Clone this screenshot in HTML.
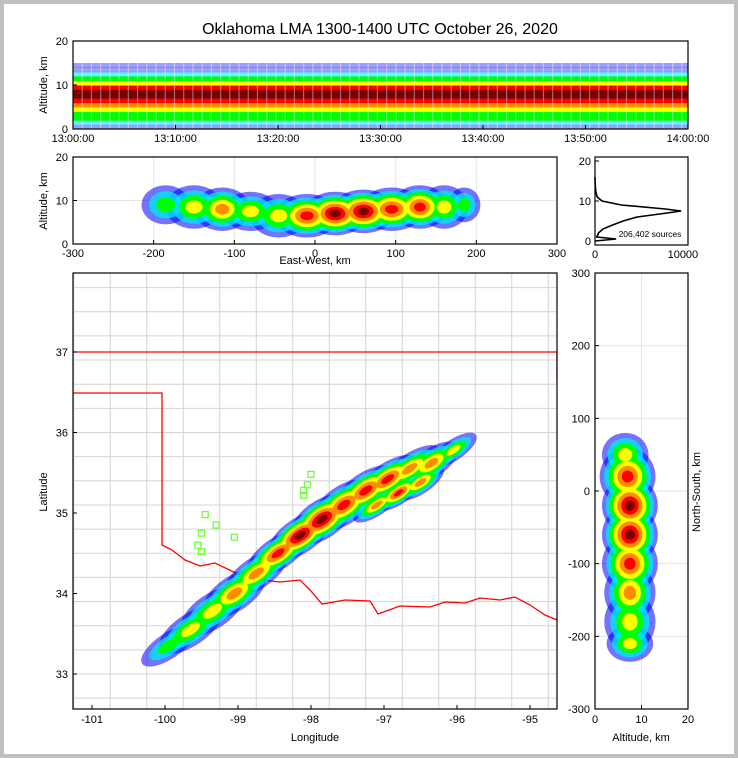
<!DOCTYPE html>
<html><head><meta charset="utf-8"><style>
html,body{margin:0;padding:0;background:#c0c0c0}
#wrap{position:absolute;left:4px;top:4px;width:730px;height:750px;background:#fff}
svg{position:absolute;left:0;top:0}
text{font-family:"Liberation Sans",sans-serif;fill:#000}
</style></head><body>
<div id="wrap"></div>
<svg id="s" width="738" height="758"></svg>
<script>
// ---------- data ----------
const levelColors=['#0000ff','#00e5ff','#00ff00','#ffff00','#ff8c00','#ff0000','#7a0000'];
const levelOpacity=[0.55,0.8,1,1,1,1,1];
// time-height: altitude bins (km) and density level per bin
const thAlt=[0,1,2,3,4,5,6,7,8,9,10,11,12,13,14,15];
const thLevel=[0,1,2,2,3,4,5,6,6,5,3,2,1,0,0,-1];
// E-W vs altitude blobs
const ewX=[-185,-150,-115,-80,-45,-10,25,60,95,130,160,185];
const ewAlt=[9,8.5,8,7.5,6.5,6.5,7,7.5,8,8.5,8.5,9];
const ewHW=[30,35,35,35,35,40,40,40,40,35,30,20];
const ewHH=[4.5,5,5,4.5,5,5,5,5,5,5,5,4];
const ewPeak=[2,3,4,3,3,5,6,6,5,5,3,2];
// map swath blobs
const mapLon=[-99.95,-99.65,-99.35,-99.05,-98.75,-98.45,-98.15,-97.85,-97.55,-97.25,-96.95,-96.65,-96.35,-96.05,-97.1,-96.8,-96.5];
const mapLat=[33.35,33.55,33.78,34.0,34.25,34.5,34.72,34.92,35.1,35.28,35.42,35.55,35.62,35.78,35.1,35.25,35.38];
const mapLen=[0.35,0.4,0.4,0.4,0.4,0.4,0.4,0.4,0.4,0.4,0.4,0.4,0.35,0.3,0.3,0.3,0.3];
const mapWid=[0.16,0.2,0.22,0.22,0.2,0.2,0.22,0.24,0.24,0.22,0.2,0.18,0.18,0.13,0.13,0.14,0.14];
const mapPeak=[2,3,3,4,4,5,6,6,5,5,5,4,4,3,4,5,4];
// N-S vs altitude blobs
const nsAlt=[6.5,7,7.5,7.5,7.5,7.5,7.5,7.5];
const nsY=[50,20,-20,-60,-100,-140,-180,-210];
const nsHA=[5,6,6,6,6,5.5,5.5,5];
const nsHY=[30,40,40,40,40,40,40,25];
const nsPeak=[3,5,6,6,5,4,3,3];
// histogram
const hAlt=[0,0.5,1,2,3,4,5,6,7,7.5,8,9,10,11,12,13,14,15,16];
const hCnt=[0,2400,200,400,900,2000,3200,4800,8200,9800,8000,3000,800,250,120,60,30,10,0];
// stations
const stLon=[-99.45,-99.5,-99.3,-99.55,-99.5,-99.05,-98.0,-98.05,-98.1,-98.1];
const stLat=[34.98,34.75,34.85,34.6,34.52,34.7,35.48,35.35,35.28,35.22];
// ---------- helpers ----------
const S=document.getElementById('s'),NS='http://www.w3.org/2000/svg';
function mk(tag,at,name,parent){const e=document.createElementNS(NS,tag);for(const k in at)e.setAttribute(k,at[k]);


(parent||S).appendChild(e);return e;}
function txt(x,y,s,name,opt){opt=opt||{};const t=mk('text',{x:x,y:y,'font-size':opt.fs||11,'text-anchor':opt.a||'middle'},name);
if(opt.rot)t.setAttribute('transform','rotate('+opt.rot+' '+x+' '+y+')');t.textContent=s;return t;}
function clip(id,x,y,w,h){const c=mk('clipPath',{id:id},'clip');mk('rect',{x:x,y:y,width:w,height:h},'clip-rect',c);}
function frame(x,y,w,h,name){mk('rect',{x:x,y:y,width:w,height:h,fill:'none',stroke:'#000','stroke-width':1.2},name);}
txt(380,34,'Oklahoma LMA 1300-1400 UTC October 26, 2020','title',{fs:16});

// ---------- panel 1 ----------
const p1={x:73,y:41,w:615,h:88};
const t1x=m=>p1.x+m/60*p1.w, t1y=a=>p1.y+p1.h-a/20*p1.h;
clip('c1',p1.x,p1.y,p1.w,p1.h);
const g1=mk('g',{'clip-path':'url(#c1)'},'time-height-density');
for(let i=0;i<thAlt.length;i++){if(thLevel[i]<0)continue;const L=thLevel[i];
 mk('rect',{x:p1.x,y:t1y(thAlt[i]+1),width:p1.w,height:p1.h/20+0.5,fill:levelColors[L],opacity:levelOpacity[L]*(L<2?0.7:1)},'time-height-row',g1);}
for(let m=0;m<60;m+=0.9){mk('line',{x1:t1x(m),x2:t1x(m),y1:t1y(15),y2:t1y(0),stroke:'#fff','stroke-width':1.2,opacity:0.4},'time-streak',g1);}
frame(p1.x,p1.y,p1.w,p1.h,'time-height-frame');
const tl=['13:00:00','13:10:00','13:20:00','13:30:00','13:40:00','13:50:00','14:00:00'];
tl.forEach((s,i)=>{const x=t1x(i*10);mk('line',{x1:x,x2:x,y1:p1.y+p1.h,y2:p1.y+p1.h-4,stroke:'#000'},'x-tick');txt(x,p1.y+p1.h+13,s,'time-tick-label');});
[0,10,20].forEach(v=>{const y=t1y(v);mk('line',{x1:p1.x,x2:p1.x+4,y1:y,y2:y,stroke:'#000'},'y-tick');txt(p1.x-5,y+4,v,'alt-tick-label',{a:'end'});});
txt(47,85,'Altitude, km','time-height-y-title',{rot:-90});

// ---------- panel 2 ----------
const p2={x:73,y:157,w:484,h:87};
const ex=k=>p2.x+(k+300)/600*p2.w, ey=a=>p2.y+p2.h-a/20*p2.h;
clip('c2',p2.x,p2.y,p2.w,p2.h);
[-200,-100,0,100,200].forEach(v=>mk('line',{x1:ex(v),x2:ex(v),y1:p2.y,y2:p2.y+p2.h,stroke:'#e6e6e6'},'grid-line'));
[10].forEach(v=>mk('line',{x1:p2.x,x2:p2.x+p2.w,y1:ey(v),y2:ey(v),stroke:'#e6e6e6'},'grid-line'));
const g2=mk('g',{'clip-path':'url(#c2)'},'ew-density');
for(let L=0;L<7;L++)for(let i=0;i<ewX.length;i++){if(L>ewPeak[i])continue;const f=1-L/(ewPeak[i]+1.3);
 mk('ellipse',{cx:ex(ewX[i]),cy:ey(ewAlt[i]),rx:ewHW[i]*f*p2.w/600,ry:ewHH[i]*f*p2.h/20,fill:levelColors[L],opacity:levelOpacity[L]},'ew-density-blob',g2);}
frame(p2.x,p2.y,p2.w,p2.h,'ew-frame');
[-300,-200,-100,0,100,200,300].forEach(v=>{const x=ex(v);mk('line',{x1:x,x2:x,y1:p2.y+p2.h,y2:p2.y+p2.h-4,stroke:'#000'},'x-tick');txt(x,p2.y+p2.h+13,v,'ew-tick-label');});
[0,10,20].forEach(v=>{const y=ey(v);mk('line',{x1:p2.x,x2:p2.x+4,y1:y,y2:y,stroke:'#000'},'y-tick');txt(p2.x-5,y+4,v,'alt-tick-label',{a:'end'});});
txt(47,201,'Altitude, km','ew-y-title',{rot:-90});
txt(315,264,'East-West, km','ew-x-title');

// ---------- histogram ----------
const p3={x:595,y:157,w:93,h:88};
const hx=c=>p3.x+c/10000*p3.w*0.945, hy=a=>241-a*4;
let d='';hAlt.forEach((a,i)=>{d+=(i?'L':'M')+hx(hCnt[i]).toFixed(1)+' '+hy(a).toFixed(1);});
mk('path',{d:d,fill:'none',stroke:'#000','stroke-width':1.6},'altitude-histogram-line');
frame(p3.x,p3.y,p3.w,p3.h,'histogram-frame');
[0,10,20].forEach(v=>{const y=hy(v);mk('line',{x1:p3.x,x2:p3.x+4,y1:y,y2:y,stroke:'#000'},'y-tick');txt(p3.x-4,y+4,v,'hist-y-tick-label',{a:'end'});});
[[0,'0'],[10000,'10000']].forEach(([v,s])=>{const x=hx(v);txt(x,p3.y+p3.h+13,s,'hist-x-tick-label');});
txt(650,237,'206,402 sources','source-count',{fs:8.5});

// ---------- map ----------
const p4={x:73,y:273,w:484,h:436};
const mx=l=>92+(l+101)*73, my=t=>352+(37-t)*80.5;
clip('c4',p4.x,p4.y,p4.w,p4.h);
const g4=mk('g',{'clip-path':'url(#c4)'},'map-layer');
for(let lo=-101.25;lo<-94.5;lo+=0.5)mk('line',{x1:mx(lo),x2:mx(lo),y1:p4.y,y2:p4.y+p4.h,stroke:'#d4d4d4','stroke-width':1},'county-line',g4);
for(let la=32.7;la<38;la+=0.3)mk('line',{x1:p4.x,x2:p4.x+p4.w,y1:my(la),y2:my(la),stroke:'#d4d4d4','stroke-width':1},'county-line',g4);
mk('path',{d:'M73 352 L557 352 L557 380 M73 393 L162 393 L162 545 L172 550 L185 560 L200 566 L215 563 L240 575 L262 580 L280 582 L300 580 L310 590 L322 604 L345 600 L370 601 L378 614 L400 606 L430 607 L445 602 L465 603 L480 598 L500 600 L515 597 L530 605 L545 615 L557 620',fill:'none',stroke:'#ff0000','stroke-width':1.3},'state-border',g4);
const ang=Math.atan2(my(35.9)-my(33.2),mx(-95.8)-mx(-100.2))*180/Math.PI;
for(let L=0;L<7;L++)for(let i=0;i<mapLon.length;i++){if(L>mapPeak[i])continue;const f=1-L/(mapPeak[i]+1.3);
 const cx=mx(mapLon[i]),cy=my(mapLat[i]);
 mk('ellipse',{cx:cx,cy:cy,rx:mapLen[i]*f*73*1.25,ry:mapWid[i]*f*80,fill:levelColors[L],opacity:levelOpacity[L],transform:'rotate('+ang+' '+cx+' '+cy+')'},'map-density-blob',g4);}
stLon.forEach((l,i)=>mk('rect',{x:mx(l)-3,y:my(stLat[i])-3,width:6,height:6,fill:'none',stroke:'#66ff33','stroke-width':1.2},'lma-station',g4));
frame(p4.x,p4.y,p4.w,p4.h,'map-frame');
[-101,-100,-99,-98,-97,-96,-95].forEach(v=>{const x=mx(v);mk('line',{x1:x,x2:x,y1:p4.y+p4.h,y2:p4.y+p4.h-4,stroke:'#000'},'x-tick');txt(x,p4.y+p4.h+14,v,'lon-tick-label');});
[33,34,35,36,37].forEach(v=>{const y=my(v);mk('line',{x1:p4.x,x2:p4.x+4,y1:y,y2:y,stroke:'#000'},'y-tick');txt(p4.x-5,y+4,v,'lat-tick-label',{a:'end'});});
txt(315,741,'Longitude','map-x-title');
txt(47,492,'Latitude','map-y-title',{rot:-90});

// ---------- N-S ----------
const p5={x:595,y:273,w:93,h:436};
const nx=a=>p5.x+a/20*p5.w, ny=k=>p5.y+(300-k)/600*p5.h;
clip('c5',p5.x,p5.y,p5.w,p5.h);
[10].forEach(v=>mk('line',{x1:nx(v),x2:nx(v),y1:p5.y,y2:p5.y+p5.h,stroke:'#e6e6e6'},'grid-line'));
[200,100,0,-100,-200].forEach(v=>mk('line',{x1:p5.x,x2:p5.x+p5.w,y1:ny(v),y2:ny(v),stroke:'#e6e6e6'},'grid-line'));
const g5=mk('g',{'clip-path':'url(#c5)'},'ns-density');
for(let L=0;L<7;L++)for(let i=0;i<nsAlt.length;i++){if(L>nsPeak[i])continue;const f=1-L/(nsPeak[i]+1.3);
 mk('ellipse',{cx:nx(nsAlt[i]),cy:ny(nsY[i]),rx:nsHA[i]*f*p5.w/20,ry:nsHY[i]*f*p5.h/600,fill:levelColors[L],opacity:levelOpacity[L]},'ns-density-blob',g5);}
frame(p5.x,p5.y,p5.w,p5.h,'ns-frame');
[0,10,20].forEach(v=>{const x=nx(v);mk('line',{x1:x,x2:x,y1:p5.y+p5.h,y2:p5.y+p5.h-4,stroke:'#000'},'x-tick');txt(x,p5.y+p5.h+14,v,'ns-alt-tick-label');});
[300,200,100,0,-100,-200,-300].forEach(v=>{const y=ny(v);mk('line',{x1:p5.x,x2:p5.x+4,y1:y,y2:y,stroke:'#000'},'y-tick');txt(p5.x-5,y+4,v,'ns-tick-label',{a:'end'});});
txt(641,741,'Altitude, km','ns-x-title');
txt(700,492,'North-South, km','ns-y-title',{rot:-90});
</script>
</body></html>
